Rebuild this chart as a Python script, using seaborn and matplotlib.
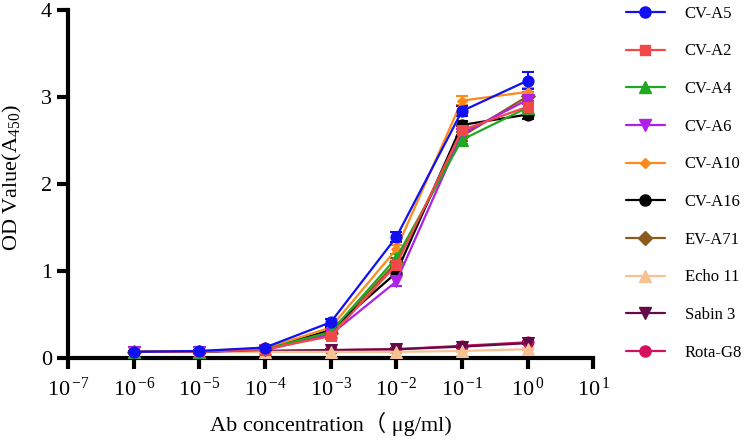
import numpy as np
import pandas as pd
import matplotlib
matplotlib.use("Agg")
import matplotlib.pyplot as plt
import seaborn as sns
from matplotlib.lines import Line2D

conc = [1e-6, 1e-5, 1e-4, 1e-3, 1e-2, 1e-1, 1e0]
series_names = ["CV-A5", "CV-A2", "CV-A4", "CV-A6", "CV-A10", "CV-A16",
                "EV-A71", "Echo 11", "Sabin 3", "Rota-G8"]
cv_a5  = [0.07, 0.08, 0.12, 0.41, 1.39, 2.84, 3.19]
cv_a2  = [0.07, 0.07, 0.10, 0.25, 1.07, 2.62, 2.89]
cv_a4  = [0.07, 0.07, 0.10, 0.30, 1.15, 2.51, 2.88]
cv_a6  = [0.07, 0.07, 0.09, 0.27, 0.88, 2.58, 2.97]
cv_a10 = [0.07, 0.08, 0.11, 0.35, 1.25, 2.96, 3.06]
cv_a16 = [0.07, 0.07, 0.10, 0.32, 0.98, 2.68, 2.80]
ev_a71 = [0.07, 0.07, 0.10, 0.29, 1.10, 2.55, 3.01]
echo11 = [0.07, 0.07, 0.07, 0.07, 0.07, 0.08, 0.10]
sabin3 = [0.07, 0.07, 0.08, 0.09, 0.10, 0.13, 0.17]
rotag8 = [0.07, 0.07, 0.08, 0.09, 0.10, 0.14, 0.18]
values = [cv_a5, cv_a2, cv_a4, cv_a6, cv_a10, cv_a16, ev_a71, echo11, sabin3, rotag8]

err_a5  = [0.01, 0.01, 0.02, 0.04, 0.06, 0.06, 0.10]
err_gen = [0.01, 0.01, 0.01, 0.03, 0.05, 0.05, 0.05]
err_ctl = [0.01, 0.01, 0.01, 0.01, 0.01, 0.01, 0.01]
errs = [err_a5, err_gen, err_gen, err_gen, err_gen, err_gen, err_gen,
        err_ctl, err_ctl, err_ctl]
xtick_exps = [-7, -6, -5, -4, -3, -2, -1, 0, 1]

colors = ["#1010F0", "#F24848", "#20A820", "#B020E8", "#FF8A1C", "#000000",
          "#8B5A1E", "#F7C292", "#650A48", "#D2105C"]
markers = ["o", "s", "^", "v", "D", "o", "D", "^", "v", "o"]
msizes = [8, 7.5, 8, 8, 5.5, 8, 7, 8, 8, 8]

rows = []
for name, vals in zip(series_names, values):
    for c, v in zip(conc, vals):
        rows.append({"conc": c, "od": v, "series": name})
df = pd.DataFrame(rows)

sns.set_style("ticks")
plt.rcParams["font.family"] = ["Liberation Serif", "Noto Sans CJK SC", "DejaVu Sans"]
plt.rcParams["mathtext.fontset"] = "custom"
plt.rcParams["mathtext.rm"] = "Liberation Serif"
plt.rcParams["mathtext.it"] = "Liberation Serif:italic"
plt.rcParams["axes.edgecolor"] = "black"
plt.rcParams["xtick.color"] = "black"
plt.rcParams["ytick.color"] = "black"
plt.rcParams["text.color"] = "black"
plt.rcParams["axes.labelcolor"] = "black"

fig = plt.figure(figsize=(7.49, 4.43), dpi=100)
ax = fig.add_axes([0.091, 0.192, 0.701, 0.785])

for i in reversed(range(len(series_names))):
    name = series_names[i]
    sub = df[df["series"] == name]
    ax.errorbar(conc, values[i], yerr=errs[i], fmt="none", ecolor=colors[i],
                elinewidth=1.5, capsize=4, capthick=1.5, zorder=2 + (10 - i) * 0.1)
    sns.lineplot(data=sub, x="conc", y="od", color=colors[i], marker=markers[i],
                 markersize=msizes[i], markeredgecolor=colors[i], linewidth=1.6,
                 ax=ax, zorder=3 + (10 - i) * 0.1, legend=False)

ax.set_xscale("log")
ax.set_xlim(1e-7, 1e1)
ax.set_ylim(0, 4)
ax.set_yticks([0, 1, 2, 3, 4])
ax.set_xticks([10.0 ** k for k in xtick_exps])
ax.set_xticklabels([r"10$^{\,\mathrm{%d}}$" % k for k in xtick_exps])
ax.xaxis.set_minor_locator(matplotlib.ticker.NullLocator())

for s in ["top", "right"]:
    ax.spines[s].set_visible(False)
for s in ["left", "bottom"]:
    ax.spines[s].set_linewidth(3)
    ax.spines[s].set_color("black")
ax.tick_params(axis="both", width=3, length=8, labelsize=16, direction="out",
               colors="black")
ax.tick_params(axis="x", pad=6)

ax.set_ylabel("OD Value(A$_{450}$)", fontsize=16)
ax.yaxis.set_label_coords(-0.084, 0.52)
ax.set_xlabel("Ab concentration（ μg/ml)", fontsize=16, labelpad=8)

handles = [Line2D([0], [0], color=colors[i], marker=markers[i], markersize=msizes[i],
                  markeredgecolor=colors[i], linewidth=1.6) for i in range(len(series_names))]
fig.legend(handles, series_names, loc="upper left", bbox_to_anchor=(0.816, 1.021),
           frameon=False, fontsize=12, labelspacing=1.30, handlelength=2.3,
           handletextpad=1.2)

fig.savefig("out.png", dpi=100)
